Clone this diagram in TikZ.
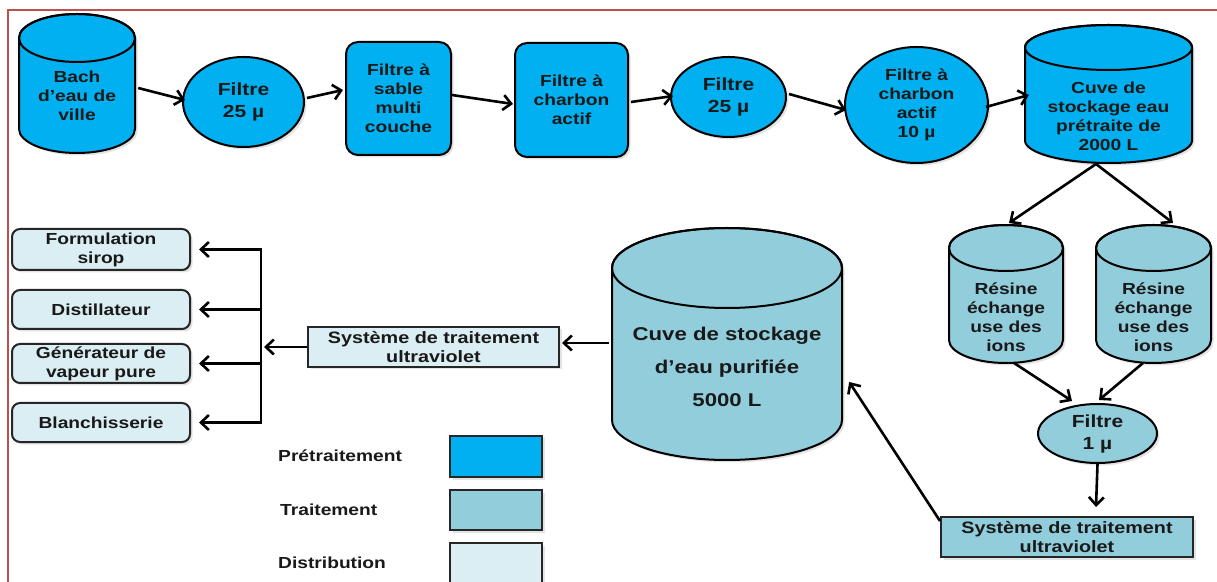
\documentclass[tikz,border=0pt]{standalone}
\usepackage{fontspec}
\setmainfont{Liberation Sans}[FakeStretch=1.2]
\usetikzlibrary{arrows.meta,shadows,shapes.geometric}
\definecolor{pre}{HTML}{00B0F0}
\definecolor{trt}{HTML}{92CDDC}
\definecolor{dst}{HTML}{DAEEF3}
\definecolor{frm}{HTML}{C0504D}
\newcommand{\cyldraw}[6]{%
 \pgfmathsetmacro\cylcx{(#1+#2)/2}%
 \pgfmathsetmacro\cylrx{(#2-#1)/2}%
 \filldraw[fill=#6, shp, shd] (#1,#3-#5) -- (#1,#4+#5) arc[start angle=180, end angle=360, x radius=\cylrx, y radius=#5] -- (#2,#3-#5) arc[start angle=0, end angle=180, x radius=\cylrx, y radius=#5] -- cycle;
 \draw[shp] (\cylcx,#3-#5) ellipse[x radius=\cylrx, y radius=#5];
}
\begin{document}
\begin{tikzpicture}[x=1pt,y=1pt,
 shp/.style={draw=black, line width=2pt},
 shd/.style={drop shadow={opacity=0.22, shadow xshift=2.5pt, shadow yshift=-2.5pt}},
 txt/.style={font=\bfseries\fontsize{16}{19}\selectfont, align=center, inner sep=0pt, text=black!90},
 big/.style={font=\bfseries\fontsize{17.5}{22}\selectfont},
 ell/.style={ellipse, shp, shd, txt, fill=pre},
 rbox/.style={rectangle, rounded corners=12pt, shp, shd, txt, fill=pre},
 sbox/.style={rectangle, draw=black!85, line width=2pt, shd, txt, fill=trt},
 dbox/.style={rectangle, rounded corners=8pt, draw=black!85, line width=2pt, shd, txt, fill=dst, minimum width=178pt},
 legbox/.style={rectangle, draw=black!85, line width=2pt, shd, minimum width=92pt},
 lbl/.style={txt, anchor=base west},
 arr/.style={line width=2.6pt, -{Straight Barb[length=8pt,width=15pt]}}
]
\useasboundingbox (0,0) rectangle (1217,581);
\fill[white] (0,0) rectangle (1217,581);
\draw[frm, line width=2pt] (8,571) rectangle (1240,-20);

% top row
\cyldraw{19}{135}{567}{428}{24}{pre}
\node[txt, minimum width=116pt] (bach) at (77,485) {Bach\\d’eau de\\ville};
\node[ell, big, minimum width=121pt, minimum height=90pt] (f1) at (243.5,479) {Filtre\\25 µ};
\node[rbox, minimum width=105pt, minimum height=113pt] (sable) at (398.5,482.5) {Filtre à\\sable\\multi\\couche};
\node[rbox, minimum width=113pt, minimum height=114pt] (charb) at (571.5,481) {Filtre à\\charbon\\actif};
\node[ell, big, minimum width=115pt, minimum height=80pt] (f2) at (728.5,484) {Filtre\\25 µ};
\node[ell, minimum width=143pt, minimum height=116pt] (f3) at (916.5,476) {Filtre à\\charbon\\actif\\10 µ};
\cyldraw{1025}{1192}{556}{418}{22.5}{pre}
\node[txt, minimum width=167pt] (cuve2) at (1108.5,465) {Cuve de\\stockage eau\\prétraite de\\2000 L};
\coordinate (c2b) at (1096,417);

\draw[arr] ([shift={(3,8)}]bach.east) -- ([shift={(3,2)}]f1.west);
\draw[arr] ([shift={(2,4)}]f1.east) -- ([shift={(-2,8.5)}]sable.west);
\draw[arr] ([shift={(0,3.5)}]sable.east) -- ([shift={(-1,-4)}]charb.west);
\draw[arr] ([shift={(2,-2)}]charb.east) -- ([shift={(3,1)}]f2.west);
\draw[arr] ([shift={(2,3)}]f2.east) -- ([shift={(2,-5)}]f3.west);
\draw[arr] ([shift={(-3,-2)}]f3.east) -- ([shift={(4,21)}]cuve2.west);

% resins
\cyldraw{949}{1063}{356}{218}{23}{trt}
\node[txt, minimum width=114pt] (res1) at (1006,264) {Résine\\échange\\use des\\ions};
\cyldraw{1096}{1211}{356}{218}{23}{trt}
\node[txt, minimum width=115pt] (res2) at (1153.5,264) {Résine\\échange\\use des\\ions};
\coordinate (r1top) at (1006,356);
\coordinate (r2top) at (1153.5,356);
\coordinate (r1bot) at (1006,218);
\coordinate (r2bot) at (1153.5,218);

\draw[arr] (c2b) -- ([shift={(3,2)}]r1top);
\draw[arr] (c2b) -- ([shift={(19.5,2)}]r2top);

\node[ell, big, fill=trt, minimum width=119pt, minimum height=59pt] (f1mu) at (1097.5,147.5) {Filtre\\1 µ};
\draw[arr] ([xshift=8]r1bot) -- ([shift={(-25.5,2)}]f1mu.north);
\draw[arr] ([xshift=-10.5]r2bot) -- ([shift={(1.5,3)}]f1mu.north);

\node[sbox, font=\bfseries\fontsize{16.5}{19}\selectfont, minimum width=252pt, minimum height=40pt] (uv2) at (1067,44) {Système de traitement\\ultraviolet};
\draw[arr] (f1mu.south) -- ([shift={(29,9)}]uv2.north);

% purified water tank
\cyldraw{612}{842}{353}{121}{40}{trt}
\node[txt, font=\bfseries\fontsize{18.5}{33}\selectfont, minimum width=230pt] (cuve5) at (727,214.5) {Cuve de stockage\\d’eau purifiée\\5000 L};
\draw[arr] ([yshift=-5]uv2.north west) -- ([shift={(7,-15.5)}]cuve5.east);

\node[sbox, fill=dst, font=\bfseries\fontsize{16.5}{19}\selectfont, minimum width=251pt, minimum height=40pt] (uv1) at (433.5,234) {Système de traitement\\ultraviolet};
\draw[arr] ([shift={(-3,23.5)}]cuve5.west) -- ([shift={(2,4)}]uv1.east);

% distribution
\node[dbox, minimum height=41pt] (form) at (101,331.5) {Formulation\\sirop};
\node[dbox, minimum height=39pt] (dist) at (101,271.5) {Distillateur};
\node[dbox, minimum height=39pt] (gen) at (101,217.5) {Générateur de\\vapeur pure};
\node[dbox, minimum height=39pt] (blan) at (101,158.5) {Blanchisserie};
\coordinate (bt) at (261,331.5);
\coordinate (bb) at (261,158.5);
\coordinate (bm) at (uv1.west -| bt);
\draw[line width=2.6pt, line cap=rect] (bt) -- (bb);
\draw[arr] (uv1.west) -- ([xshift=3]bm);
\draw[arr] (bt) -- ([xshift=8]form.east);
\draw[arr] (dist.east -| bt) -- ([xshift=8]dist.east);
\draw[arr] (gen.east -| bt) -- ([xshift=8]gen.east);
\draw[arr] (bb) -- ([xshift=8]blan.east);

% legend
\node[lbl] (l1) at (278,119.3) {Prétraitement};
\node[lbl] (l2) at (280,65.3) {Traitement};
\node[lbl] (l3) at (278,13) {Distribution};
\node[legbox, fill=pre, minimum height=41pt] (k1) at (496,124.5) {};
\node[legbox, fill=trt, minimum height=40pt] (k2) at (496,71) {};
\node[legbox, fill=dst, minimum height=41pt] (k3) at (496,17.5) {};
\end{tikzpicture}
\end{document}
